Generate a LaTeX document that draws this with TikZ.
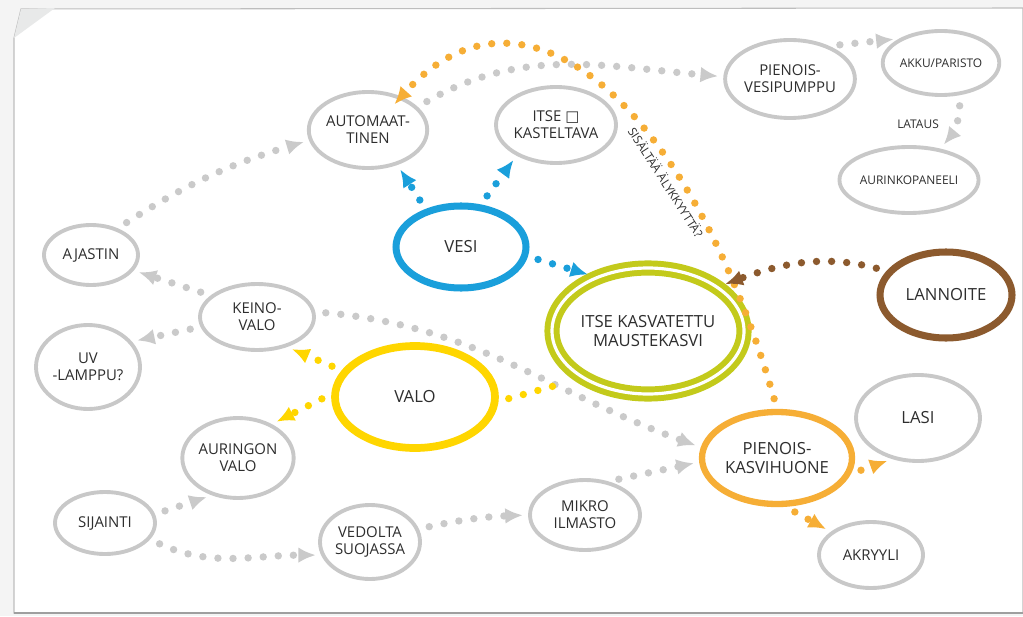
\documentclass[tikz,border=0pt]{standalone}
\usepackage{fontspec}
\setmainfont{Open Sans}
\newfontfamily\symfont{DejaVu Sans}
\usetikzlibrary{shapes.geometric, arrows.meta}
\definecolor{paper}{HTML}{F4F4F4}
\definecolor{fold}{HTML}{E8E9E9}
\definecolor{edgegray}{HTML}{BDBDBD}
\definecolor{ideagray}{HTML}{C8C8C8}
\definecolor{dotgray}{HTML}{CACACA}
\definecolor{vesiblue}{HTML}{1A9FDB}
\definecolor{valoyellow}{HTML}{FFD600}
\definecolor{kasviolive}{HTML}{C3CA1B}
\definecolor{huoneorange}{HTML}{F6AE36}
\definecolor{lannoitebrown}{HTML}{8C5A2E}
\definecolor{ink}{HTML}{2E2E2E}
\tikzset{x=0.02cm, y=0.02cm,
every node/.style={text=ink, font=\fontsize{8.5}{9.6}\selectfont},
ellsize/.style 2 args={minimum width=#1*0.02cm, minimum height=#2*0.02cm},
idea/.style={ellipse, draw=ideagray, line width=2.2pt, inner sep=0pt, align=center},
topic/.style={ellipse, line width=4pt, inner sep=0pt, align=center, font=\fontsize{9.5}{11}\selectfont},
smalltext/.style={font=\fontsize{6.8}{8}\selectfont},
dots/.style={line width=4.2pt, dash pattern=on 0pt off 8.6pt, line cap=round,
  shorten <=6pt, shorten >=3pt,
  every edge/.append style={-{Latex[length=10pt,width=9pt]}}},
}

\begin{document}
\begin{tikzpicture}
\useasboundingbox (0,0) rectangle (1023,616);
% sheet
\fill[paper] (0,0) rectangle (1023,616);
\filldraw[fill=white, draw=edgegray, line width=0.6pt] (14,578) -- (21,607) -- (1023,608) -- (1023,3) -- (14,3) -- cycle;
\draw[gray!75, line width=1.4pt] (14,3) -- (1023,3);
\fill[fold] (21,607) -- (55,608) -- (14,578) -- cycle;

    \node[idea, ellsize={116}{76}] (automaat) at (368,486) {AUTOMAAT-\\TINEN};
    \node[idea, ellsize={120}{76}] (kastel) at (556,491) {ITSE {\symfont □}\\KASTELTAVA};
    \node[idea, ellsize={116}{78}] (vesipumppu) at (790,537) {PIENOIS-\\VESIPUMPPU};
    \node[idea, smalltext, ellsize={112}{64}] (akku) at (941,553) {AKKU/PARISTO};
    \node[idea, smalltext, ellsize={132}{66}] (aurinko) at (909,436) {AURINKOPANEELI};

    \node[idea, ellsize={94}{60}] (ajastin) at (91,361) {AJASTIN};
    \node[idea, ellsize={114}{66}] (keinovalo) at (257,299) {KEINO-\\VALO};
    \node[idea, ellsize={104}{84}] (uvlamppu) at (88,249) {UV\\-LAMPPU?};
    \node[idea, ellsize={104}{80}] (auringon) at (238,158) {AURINGON\\VALO};
    \node[idea, ellsize={100}{62}] (sijainti) at (105,93) {SIJAINTI};
    \node[idea, ellsize={100}{74}] (vedolta) at (370,74) {VEDOLTA\\SUOJASSA};
    \node[idea, ellsize={110}{70}] (mikro) at (585,101) {MIKRO\\ILMASTO};
    \node[idea, font=\fontsize{9.5}{11}\selectfont, ellsize={124}{86}] (lasi) at (918,198) {LASI};
    \node[idea, ellsize={104}{66}] (akryyli) at (871,61) {AKRYYLI};

    \node[topic, draw=vesiblue, ellsize={130}{82}] (vesi) at (461,369) {VESI};
    \node[topic, draw=valoyellow, line width=4.4pt, ellsize={160}{102}] (valo) at (415,219) {VALO};
    \node[topic, draw=kasviolive, double=white, double distance=1.8pt, line width=3.4pt, ellsize={192}{126}] (mauste) at (648,285) {ITSE KASVATETTU\\MAUSTEKASVI};
    \node[topic, draw=lannoitebrown, ellsize={132}{86}] (lannoite) at (946,321) {LANNOITE};
    \node[topic, draw=huoneorange, line width=3.6pt, ellsize={150}{92}] (kasvihuone) at (777,158) {PIENOIS-\\KASVIHUONE};

    \draw[dots, dotgray]
    (ajastin.45) edge[bend left=8] (automaat.190)
    (keinovalo.155) edge (ajastin.-20)
    (keinovalo.190) edge (uvlamppu.30)
    (automaat.25) edge[out=30, in=175] (vesipumppu.178)
    (vesipumppu.40) edge (akku.150)
    (akku.-60) edge[bend left=20] node[left=4pt, smalltext] (lataus) {LATAUS} (aurinko.45)
    (keinovalo.5) edge[out=-5, in=160] (kasvihuone.172)
    (mikro.55) edge (kasvihuone.183)
    (sijainti.10) edge (auringon.235)
    (sijainti.-20) edge[out=-25, in=180] (vedolta.195)
    (vedolta.15) edge[bend left=5] (mikro.180)
    ;

    \draw[dots, vesiblue]
    (vesi.133) edge (automaat.-50)
    (vesi.65) edge (kastel.218)
    (vesi.-8) edge (mauste.135)
    ;

    \draw[dots, valoyellow]
    (valo.160) edge (keinovalo.-45)
    (valo.178) edge (auringon.45)
    (valo.-3) edge[-, shorten >=10pt] (mauste.215)
    ;

    \draw[dots, huoneorange]
    (kasvihuone.north) edge[out=106, in=48, out looseness=1.66, in looseness=0.96, shorten >=-6pt]
      node[pos=0.31, sloped, below=2pt, inner sep=0pt, smalltext] (alyk) {SISÄLTÄÄ ÄLYKKYYTTÄ?} (automaat.45)
    (kasvihuone.-12) edge (lasi.238)
    (kasvihuone.-80) edge (akryyli.150)
    ;

    \draw[dots, lannoitebrown]
    (lannoite.158) edge[out=165, in=20] (mauste.32)
    ;
\end{tikzpicture}
\end{document}
